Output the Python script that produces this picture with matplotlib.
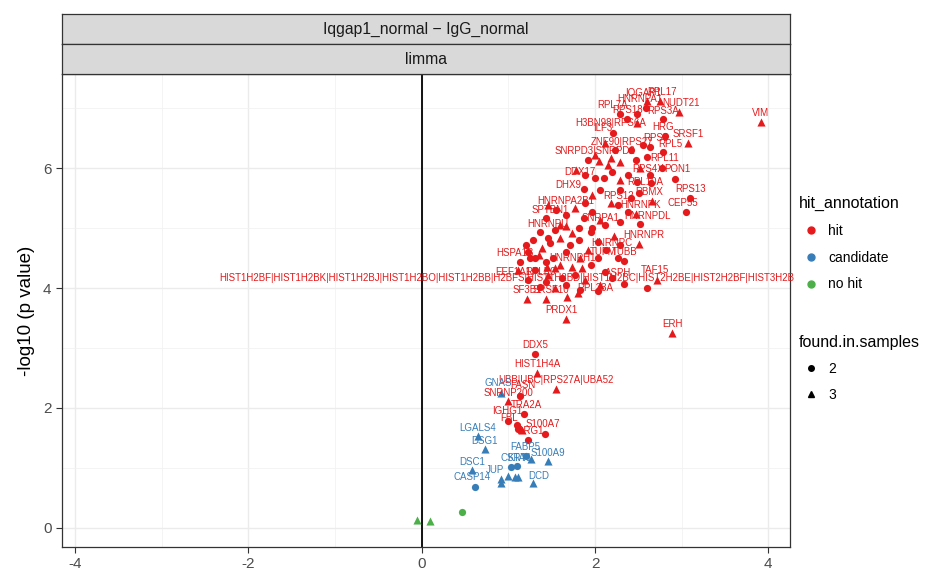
import matplotlib
matplotlib.use('Agg')
import matplotlib.pyplot as plt
from matplotlib.lines import Line2D
from matplotlib.ticker import MultipleLocator

plt.rcParams['font.family'] = ['Liberation Sans', 'DejaVu Sans']
plt.rcParams['axes.unicode_minus'] = False

# ---- data ----
hit_genes = ['VIM', 'SRSF1', 'NUDT21', 'RPL17', 'IQGAP1', 'HNRNPA1', 'RPL7A', 'RPS18', 'RPS3A', 'H3BN98|RPS6A',
             'HRG', 'ILF3', 'RPS8', 'RPL5', 'ZNF90|RPS27', 'SNRPD3|SNRPD2', 'RPL11', 'RPS4X', 'PON1', 'RPS13',
             'CEP55', 'DDX17', 'DHX9', 'RPL10A', 'RBMX', 'RPS12', 'HNRNPK', 'HNRNPDL', 'HNRNPR', 'HNRNPU',
             'SNRPA1', 'HNRNPC', 'TUBB', 'TUFM', 'HSPA1B', 'EEF1A1', 'RPLP0', 'RPL23A', 'ASPH', 'TAF15',
             'HIST1H2BF|HIST1H2BK|HIST1H2BJ|HIST1H2BO|HIST1H2BB|H2BFS|HIST1H2BD|HIST1H2BC|HIST2H2BE|HIST2H2BF|HIST3H2B',
             'SF3B1', 'SRSF10', 'PRDX1', 'ERH', 'HNRNPH1', 'HNRNPA2B1', 'SPTBN1', 'DDX5', 'HIST1H4A',
             'UBB|UBC|RPS27A|UBA52', 'FASN', 'SNRNP200', 'TRA2A', 'IGHG1', 'FBL', 'S100A7', 'ARG1']
hit_logfc = [3.91, 3.07, 2.97, 2.75, 2.60, 2.59, 2.29, 2.37, 2.79, 2.49,
             2.81, 2.21, 2.64, 2.79, 2.42, 1.92, 2.60, 2.77, 2.92, 3.10,
             3.05, 2.00, 1.87, 2.65, 2.51, 2.18, 2.66, 2.52, 2.51, 1.66,
             2.12, 2.13, 2.34, 2.04, 1.31, 1.23, 1.43, 2.03, 2.33, 2.72,
             2.60,
             1.22, 1.43, 1.66, 2.89, 1.74, 1.55, 1.43, 1.31, 1.33,
             1.55, 1.13, 1.00, 1.18, 1.00, 1.10, 1.42, 1.23]
hit_logp = [6.77, 6.42, 6.93, 7.12, 7.12, 7.00, 6.90, 6.82, 6.82, 6.75,
            6.53, 6.58, 6.35, 6.27, 6.30, 6.13, 6.18, 6.00, 5.82, 5.50,
            5.27, 5.83, 5.65, 5.75, 5.58, 5.42, 5.45, 5.07, 4.73, 5.03,
            5.05, 4.63, 4.45, 4.50, 4.50, 4.13, 4.10, 3.95, 4.07, 4.13,
            4.00,
            3.82, 3.82, 3.48, 3.25, 4.35, 5.30, 5.17, 2.90, 2.58,
            2.32, 2.20, 2.12, 1.90, 1.78, 1.72, 1.57, 1.47]
hit_samples = [3, 3, 3, 3, 3, 2, 2, 2, 2, 3,
               2, 2, 2, 2, 2, 2, 2, 2, 2, 2,
               2, 2, 2, 2, 2, 3, 3, 2, 3, 3,
               2, 2, 2, 2, 2, 2, 2, 2, 2, 3,
               2,
               3, 3, 3, 3, 3, 2, 2, 2, 3,
               3, 2, 3, 2, 2, 2, 2, 2]

# unlabelled hits in the dense cloud
cloud_logfc = [1.11, 1.16, 1.14, 1.25, 1.35, 1.43, 1.51, 1.60, 1.83, 1.95,
               1.31, 1.46, 1.62, 1.77, 1.89, 2.12, 1.37, 1.54, 1.66, 1.83,
               1.11, 2.06, 2.20, 1.45, 1.54, 1.85, 1.20, 1.29, 1.39, 1.48,
               1.60, 1.71, 1.81, 1.92, 2.04, 2.22, 1.37, 1.54, 1.74, 1.95,
               2.29, 1.66, 1.46, 1.23, 1.46, 1.77, 1.87, 1.97, 2.06, 2.27,
               1.60, 1.81, 1.97, 2.29, 1.89, 2.38, 1.66, 1.78, 1.89, 2.10,
               2.20, 2.29, 2.38, 2.48, 2.06, 2.29, 2.41, 1.97, 2.52, 2.64,
               2.15, 2.00, 2.23, 2.29, 2.47, 2.55, 2.05, 2.18, 2.49, 2.26,
               2.47, 1.68, 1.80, 2.12]
cloud_logp = [1.65, 1.63, 4.43, 4.50, 4.55, 4.43, 4.50, 4.38, 4.50, 4.38,
              4.30, 4.22, 4.17, 4.22, 4.13, 4.27, 4.02, 4.00, 4.05, 3.97,
              4.30, 4.05, 4.17, 4.35, 4.33, 4.33, 4.72, 4.80, 4.67, 4.75,
              4.83, 4.72, 4.80, 4.63, 4.77, 4.87, 4.93, 4.97, 4.92, 4.93,
              4.72, 4.60, 4.83, 4.60, 5.38, 5.33, 5.17, 5.27, 5.13, 5.38,
              5.05, 5.00, 5.00, 5.10, 5.42, 5.27, 5.22, 5.97, 5.88, 5.83,
              5.93, 5.80, 5.88, 5.77, 5.63, 5.63, 5.50, 5.55, 6.00, 5.88,
              6.05, 6.22, 6.30, 6.10, 6.13, 6.38, 6.12, 6.17, 6.90, 4.50,
              5.23, 3.85, 3.92, 6.42]
cloud_samples = [2, 3, 2, 2, 3, 2, 2, 3, 3, 2,
                 2, 3, 2, 2, 3, 2, 2, 3, 2, 2,
                 3, 3, 2, 3, 3, 3, 2, 2, 3, 2,
                 3, 2, 2, 3, 2, 3, 2, 2, 3, 2,
                 2, 2, 2, 2, 3, 3, 2, 2, 3, 2,
                 3, 2, 2, 2, 2, 2, 2, 3, 2, 2,
                 2, 3, 2, 2, 2, 2, 2, 3, 3, 2,
                 3, 3, 2, 3, 2, 2, 3, 3, 2, 2,
                 3, 3, 3, 3]

cand_genes = ['GNAS', 'LGALS4', 'DSG1', 'FABP5', 'S100A9', '', 'DSC1', 'CASP14', 'DCD', 'JUP',
              '', '', '', '', 'CSTA', 'KRT1']
cand_logfc = [0.92, 0.65, 0.73, 1.20, 1.46, 1.26, 0.58, 0.61, 1.29, 0.92,
              0.92, 1.00, 1.08, 1.11, 1.03, 1.10]
cand_logp = [2.25, 1.53, 1.32, 1.20, 1.12, 1.15, 0.97, 0.68, 0.75, 0.82,
             0.75, 0.87, 0.85, 0.85, 1.02, 1.03]
cand_samples = [3, 3, 3, 2, 3, 3, 3, 2, 3, 3,
                3, 3, 3, 3, 2, 2]

nohit_logfc = [0.47, -0.05, 0.10]
nohit_logp = [0.27, 0.13, 0.12]
nohit_samples = [2, 3, 3]

# label nudges (pixels), default is straight above the point
label_offset = {
    'NUDT21': (2, 9), 'RPL17': (2, 9), 'IQGAP1': (-4, 8), 'HNRNPA1': (-6, 9), 'RPL7A': (-8, 9),
    'RPS3A': (0, 8), 'H3BN98|RPS6A': (-27, 0), 'HRG': (-2, 9), 'ILF3': (-10, 5), 'RPS8': (5, 9),
    'RPL5': (7, 8), 'ZNF90|RPS27': (-9, 8), 'SNRPD3|SNRPD2': (7, 9), 'RPL11': (18, -1),
    'RPS4X': (-14, -1), 'PON1': (3, 10), 'CEP55': (-3, 9), 'DDX17': (-15, 6), 'DHX9': (-15, 4),
    'RPL10A': (-6, 1), 'RBMX': (10, 1), 'RPS12': (8, 7), 'HNRNPK': (-12, -4), 'HNRNPDL': (7, 8),
    'HNRNPR': (5, 9), 'HNRNPU': (-18, 2), 'SNRPA1': (-5, 7), 'HNRNPC': (6, 7), 'TUFM': (5, 6),
    'HSPA1B': (-20, 5), 'EEF1A1': (-15, 8), 'RPLP0': (-5, 10), 'RPL23A': (-2, 3), 'ASPH': (-5, 11),
    'TAF15': (-2, 10), 'SRSF10': (5, 9), 'PRDX1': (-4, 9), 'HNRNPA2B1': (10, 9), 'SPTBN1': (5, 8),
    'FASN': (3, 11), 'SNRNP200': (0, 8), 'TRA2A': (2, 9), 'IGHG1': (-1, 10), 'FBL': (-8, 7),
    'S100A7': (-2, 10), 'ARG1': (3, 9), 'GNAS': (-3, 10), 'LGALS4': (0, 8), 'DSG1': (0, 8),
    'S100A9': (0, 8), 'DSC1': (0, 8), 'CASP14': (-2, 10), 'DCD': (5, 7), 'JUP': (-6, 9),
    'CSTA': (2, 9), 'KRT1': (3, 8),
}
long_hist = hit_genes[40]
label_offset[long_hist] = (-140, 10)

RED, BLUE, GREEN = '#E41A1C', '#377EB8', '#4DAF4A'

fig = plt.figure(figsize=(9.42, 5.75), dpi=100)
W, H = 942, 575
ax = fig.add_axes([62 / W, 1 - 547 / H, 728 / W, 473 / H])

# facet strips
for top, txt in [(14, 'Iqgap1_normal \u2212 IgG_normal'), (44, 'limma')]:
    s = fig.add_axes([62 / W, 1 - (top + 30) / H, 728 / W, 30 / H])
    s.set_facecolor('#D9D9D9')
    s.set_xticks([])
    s.set_yticks([])
    for sp in s.spines.values():
        sp.set_color('#333333')
        sp.set_linewidth(0.9)
    s.text(0.5, 0.5, txt, ha='center', va='center', fontsize=11.3, color='#1A1A1A', transform=s.transAxes)

ax.set_xlim(-4.15, 4.25)
ax.set_ylim(-0.32, 7.57)
ax.xaxis.set_major_locator(MultipleLocator(2))
ax.xaxis.set_minor_locator(MultipleLocator(1))
ax.yaxis.set_major_locator(MultipleLocator(2))
ax.yaxis.set_minor_locator(MultipleLocator(1))
ax.grid(which='major', color='#EBEBEB', lw=1.0)
ax.grid(which='minor', color='#F2F2F2', lw=0.6)
ax.set_axisbelow(True)
ax.tick_params(which='minor', length=0)
ax.tick_params(which='major', length=4, color='#333333', labelcolor='#4D4D4D', labelsize=11)
for sp in ax.spines.values():
    sp.set_color('#333333')
    sp.set_linewidth(0.9)
ax.axvline(0, color='black', lw=1.3, zorder=1)


def draw(xs, ys, ns, col):
    for n, m, sz in [(2, 'o', 27), (3, '^', 34)]:
        px = [x for x, k in zip(xs, ns) if k == n]
        py = [y for y, k in zip(ys, ns) if k == n]
        ax.scatter(px, py, marker=m, s=sz, color=col, lw=0, zorder=3)


draw(cloud_logfc, cloud_logp, cloud_samples, RED)
draw(hit_logfc, hit_logp, hit_samples, RED)
draw(cand_logfc, cand_logp, cand_samples, BLUE)
draw(nohit_logfc, nohit_logp, nohit_samples, GREEN)

for genes, xs, ys, col in [(hit_genes, hit_logfc, hit_logp, RED), (cand_genes, cand_logfc, cand_logp, BLUE)]:
    for g, x, y in zip(genes, xs, ys):
        if not g:
            continue
        dx, dy = label_offset.get(g, (0, 9))
        ax.annotate(g, (x, y), xytext=(dx, dy), textcoords='offset pixels', ha='center', va='center',
                    fontsize=7, color=col, zorder=4)

ax.set_ylabel('-log10 (p value)', fontsize=13.5, labelpad=6)
fig.text(421 / W, 1 - 584 / H, 'logFC', ha='center', va='center', fontsize=13.5)

h1 = [Line2D([], [], marker='o', ls='', color=c, markersize=5) for c in (RED, BLUE, GREEN)]
leg1 = fig.legend(h1, ['hit', 'candidate', 'no hit'], title='hit_annotation', loc='upper left',
                  bbox_to_anchor=(792 / W, 1 - 189 / H), frameon=False, fontsize=10, title_fontsize=11.5,
                  borderpad=0, handlelength=1.8, handletextpad=0.3, labelspacing=0.92, alignment='left')
h2 = [Line2D([], [], marker=m, ls='', color='black', markersize=4) for m in ('o', '^')]
leg2 = fig.legend(h2, ['2', '3'], title='found.in.samples', loc='upper left',
                  bbox_to_anchor=(792 / W, 1 - 328 / H), frameon=False, fontsize=10, title_fontsize=11.5,
                  borderpad=0, handlelength=1.8, handletextpad=0.3, labelspacing=0.85, alignment='left')

fig.savefig('out.png', dpi=100)
